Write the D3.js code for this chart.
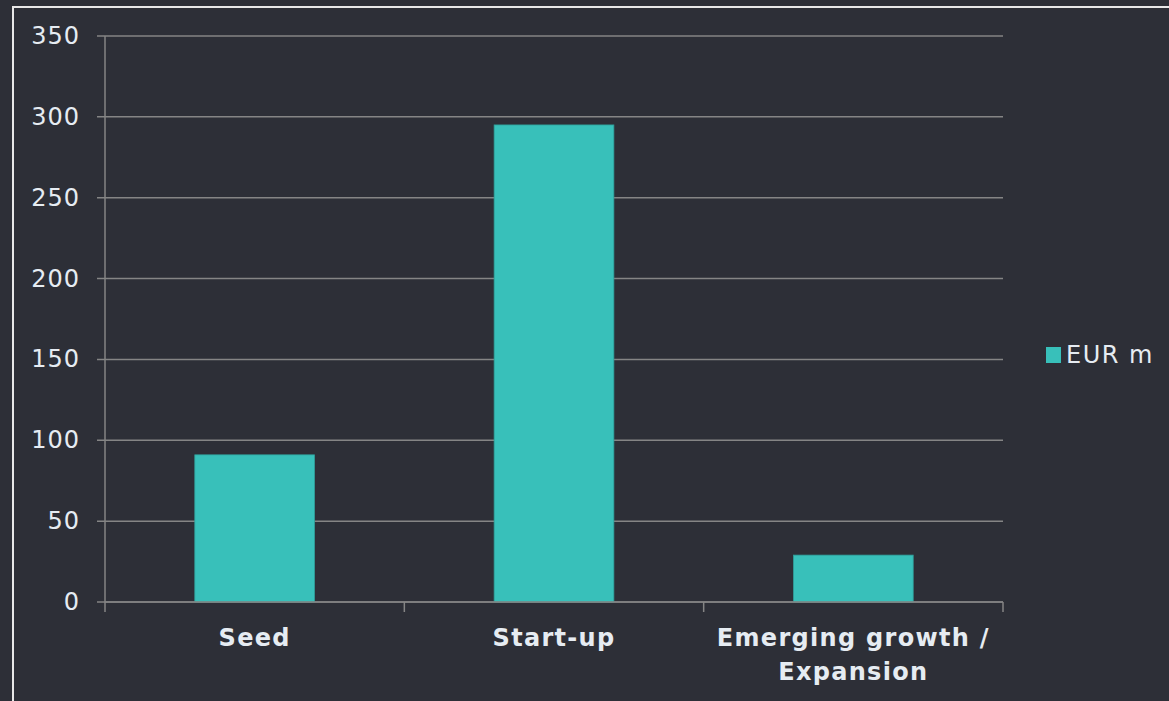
<!DOCTYPE html>
<html>
<head>
<meta charset="utf-8">
<script src="https://cdn.jsdelivr.net/npm/d3@7"></script>
<style>
  html, body { margin: 0; padding: 0; background: #2d2f37; }
  svg { display: block; }
  text { font-family: "DejaVu Sans", Verdana, sans-serif; fill: #e6ecf2; }
</style>
</head>
<body>
<div id="chart"></div>
<script>
let categories = [["Seed"], ["Start-up"], ["Emerging growth /", "Expansion"]];
let values = [91, 295, 29];
let seriesName = "EUR m";
let yTicks = [0, 50, 100, 150, 200, 250, 300, 350];

let width = 1169,
    height = 701;

let x0 = 105, x1 = 1003,
    yTop = 36, yBottom = 602;

let svg = d3.select("#chart")
    .append("svg")
    .attr("width", width)
    .attr("height", height);

svg.append("rect")
    .attr("width", width)
    .attr("height", height)
    .attr("fill", "#2d2f37");

// frame line (top + left only are visible)
svg.append("path")
    .attr("d", "M13," + (height + 5) + "V7H" + (width + 5))
    .attr("fill", "none")
    .attr("stroke", "#e8e8e8")
    .attr("stroke-width", 2);

let x = d3.scaleBand()
    .domain(categories.map(d => d.join(" ")))
    .range([x0, x1])
    .paddingInner(0.6)
    .paddingOuter(0.3);

let y = d3.scaleLinear()
    .domain([0, 350])
    .range([yBottom, yTop]);

// gridlines
svg.append("g")
    .selectAll("line")
    .data(yTicks)
    .enter().append("line")
    .attr("x1", x0 - 8)
    .attr("x2", x1)
    .attr("y1", d => y(d))
    .attr("y2", d => y(d))
    .attr("stroke", "#858585")
    .attr("stroke-width", 1.5);

// y axis line
svg.append("line")
    .attr("x1", x0).attr("x2", x0)
    .attr("y1", yTop).attr("y2", yBottom)
    .attr("stroke", "#858585")
    .attr("stroke-width", 1.5);

// y labels
svg.append("g")
    .selectAll("text")
    .data(yTicks)
    .enter().append("text")
    .attr("x", 80)
    .attr("y", d => y(d) + 8)
    .attr("text-anchor", "end")
    .style("font-size", "24px")
    .style("letter-spacing", "1px")
    .text(d => d);

// bars
svg.append("g")
    .selectAll("rect")
    .data(values)
    .enter().append("rect")
    .attr("x", (d, i) => x(categories[i].join(" ")))
    .attr("y", d => y(d))
    .attr("width", x.bandwidth())
    .attr("height", d => yBottom - y(d))
    .attr("fill", "#38c0ba")
    .attr("stroke", "#2f9e99")
    .attr("stroke-width", 0.8);

// x axis with tick marks between categories
let bounds = d3.range(categories.length + 1).map(i => x0 + i * (x1 - x0) / categories.length);
svg.append("line")
    .attr("x1", x0).attr("x2", x1)
    .attr("y1", yBottom).attr("y2", yBottom)
    .attr("stroke", "#858585")
    .attr("stroke-width", 1.5);
svg.append("g")
    .selectAll("line")
    .data(bounds)
    .enter().append("line")
    .attr("x1", d => d).attr("x2", d => d)
    .attr("y1", yBottom).attr("y2", yBottom + 10)
    .attr("stroke", "#858585")
    .attr("stroke-width", 1.5);

// x labels
let xl = svg.append("g")
    .selectAll("text")
    .data(categories)
    .enter().append("text")
    .attr("text-anchor", "middle")
    .attr("transform", d => "translate(" + (x(d.join(" ")) + x.bandwidth() / 2) + ",646)")
    .style("font-size", "24px")
    .style("font-weight", "bold")
    .style("letter-spacing", "1.3px");
xl.selectAll("tspan")
    .data(d => d)
    .enter().append("tspan")
    .attr("x", 0)
    .attr("dy", (d, i) => i === 0 ? 0 : 34)
    .text(d => d);

// legend
svg.append("rect")
    .attr("x", 1046)
    .attr("y", 347)
    .attr("width", 15)
    .attr("height", 16)
    .attr("fill", "#38c0ba");
svg.append("text")
    .attr("x", 1066)
    .attr("y", 363)
    .style("font-size", "24px")
    .style("letter-spacing", "1.5px")
    .text(seriesName);
</script>
</body>
</html>
